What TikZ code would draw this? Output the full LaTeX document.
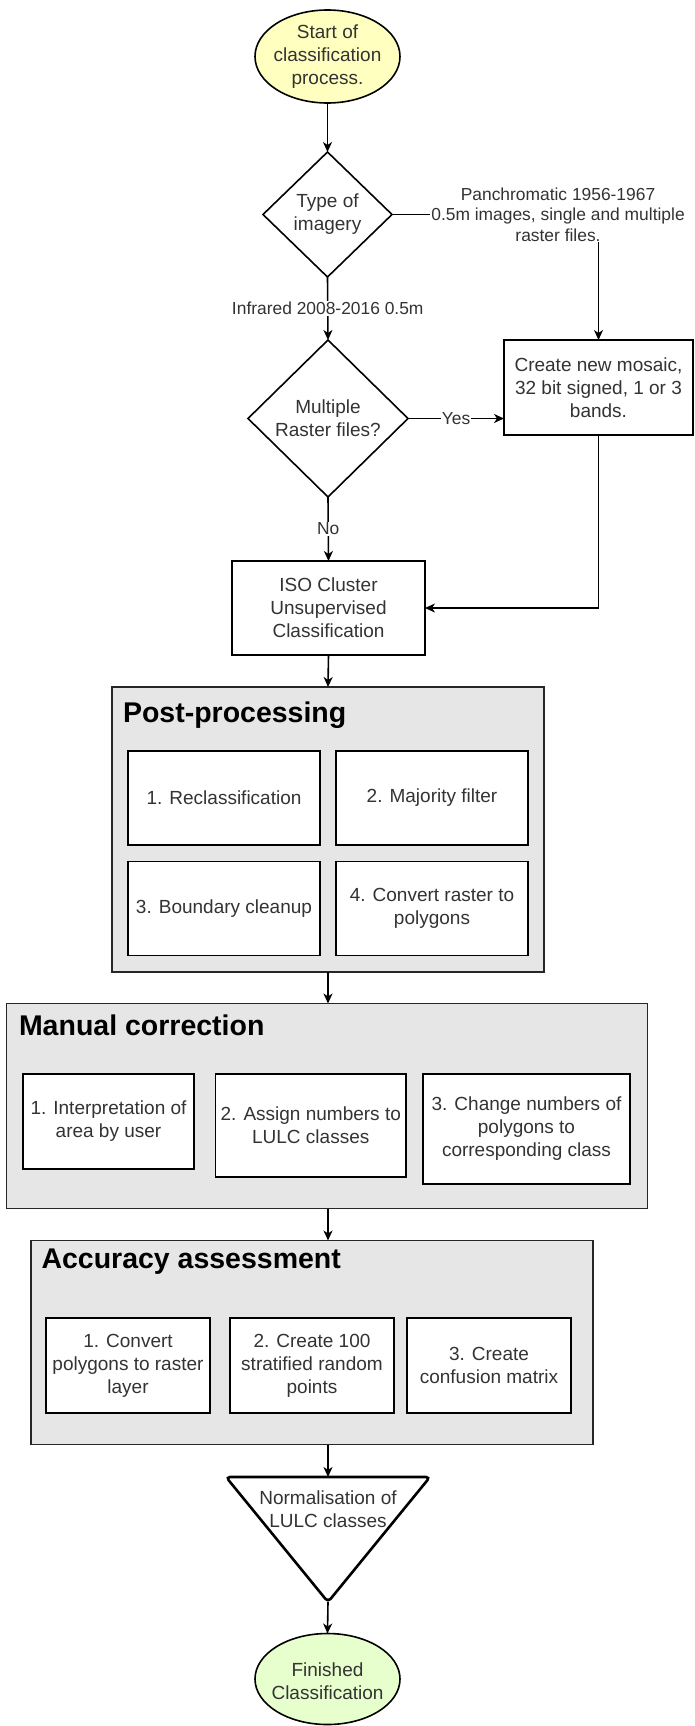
\documentclass[tikz,border=0pt]{standalone}
\usepackage{fontspec}
\setmainfont{Liberation Sans}
\usetikzlibrary{arrows.meta,shapes.geometric}
\definecolor{txtcol}{HTML}{333333}
\definecolor{startfill}{HTML}{FFFFC0}
\definecolor{endfill}{HTML}{E6FFCC}
\definecolor{groupfill}{HTML}{E6E6E6}
\begin{document}
\begin{tikzpicture}[x=1pt,y=-1pt,
  line width=1.6pt,
  every node/.style={inner sep=0pt, outer sep=0pt, text=txtcol, align=center,
    font=\fontsize{19}{23}\selectfont},
  arr/.style={draw=black, -{Stealth[length=10pt,width=9pt,inset=3pt]}},
  stepbox/.style={draw=black, fill=white, rectangle},
  groupbox/.style={draw=black!85, fill=groupfill, rectangle},
  grouptitle/.style={anchor=west, text=black, font=\fontsize{28.5}{34}\selectfont\bfseries},
  lbl/.style={fill=white, inner sep=1pt, font=\fontsize{17.4}{20.5}\selectfont},
  decision/.style={draw=black, fill=white, diamond},
  terminal/.style={draw=black, ellipse}
]
\useasboundingbox (0,0) rectangle (694,1726);

% start
\node[terminal, fill=startfill, minimum width=145pt, minimum height=93pt] (start) at (327.5,56.5) {};
\node (starttxt) at (327.5,56.5) {Start of\\classification\\process.};

% type of imagery
\node[decision, minimum width=129pt, minimum height=125pt] (type) at (327.5,214.5) {};
\node (typetxt) at (327.5,214.5) {Type of\\imagery};

% multiple raster
\node[decision, minimum width=160pt, minimum height=157pt] (multi) at (328,418.5) {};
\node (multitxt) at (328,418.5) {Multiple\\Raster files?};

% mosaic
\node[stepbox, minimum width=189pt, minimum height=95pt] (mosaic) at (598.5,387.5)
  {Create new mosaic,\\32 bit signed, 1 or 3\\bands.};

% iso cluster
\node[stepbox, minimum width=193pt, minimum height=94pt] (iso) at (328.5,608)
  {ISO Cluster\\Unsupervised\\Classification};

% post-processing
\node[groupbox, minimum width=432pt, minimum height=285pt] (post) at (328,829.5) {};
\node[grouptitle] (posttitle) at (123,715) {Post-processing};
\node[stepbox, minimum width=192pt, minimum height=94pt] (pp1) at (224,798) {1. Reclassification};
\node[stepbox, minimum width=192pt, minimum height=94pt] (pp2) at (432,798) {2. Majority filter};
\node[stepbox, minimum width=192pt, minimum height=94pt] (pp3) at (224,908.5) {3. Boundary cleanup};
\node[stepbox, minimum width=192pt, minimum height=94pt] (pp4) at (432,908.5) {4. Convert raster to\\polygons};

% manual correction
\node[groupbox, minimum width=641pt, minimum height=205pt] (mc) at (327,1106) {};
\node[grouptitle] (mctitle) at (19,1025) {Manual correction};
\node[stepbox, minimum width=171pt, minimum height=95pt] (mc1) at (108.5,1121.5) {1. Interpretation of\\area by user};
\node[stepbox, minimum width=190.5pt, minimum height=103pt] (mc2) at (310.75,1125.5) {2. Assign numbers to\\LULC classes};
\node[stepbox, minimum width=207pt, minimum height=110pt] (mc3) at (526.5,1129) {3. Change numbers of\\polygons to\\corresponding class};

% accuracy assessment
\node[groupbox, minimum width=562pt, minimum height=204pt] (aa) at (312,1342.5) {};
\node[grouptitle] (aatitle) at (41.5,1262) {Accuracy assessment};
\node[stepbox, minimum width=164pt, minimum height=95pt] (aa1) at (128,1365.5) {1. Convert\\polygons to raster\\layer};
\node[stepbox, minimum width=164pt, minimum height=95pt] (aa2) at (312,1365.5) {2. Create 100\\stratified random\\points};
\node[stepbox, minimum width=164pt, minimum height=95pt] (aa3) at (489,1365.5) {3. Create\\confusion matrix};

% normalisation (triangle)
\node[minimum width=204pt, minimum height=125pt] (norm) at (328,1539.5) {};
\draw[fill=white, line width=2.6pt, rounded corners=4pt]
  (norm.north) -- (norm.north east) -- (norm.south) -- (norm.north west) -- cycle;
\node (normtxt) at (328,1509.5) {Normalisation of\\LULC classes};

% finish
\node[terminal, fill=endfill, minimum width=145pt, minimum height=91pt] (finish) at (327.5,1679) {};
\node (finishtxt) at (327.5,1681.5) {Finished\\Classification};

% connectors
\draw[arr] (start.south) -- (type.north);
\draw[arr] (type.east) -| (mosaic.north)
  node[lbl, pos=0.402] (panlbl) {Panchromatic 1956-1967\\0.5m images, single and multiple\\raster files.};
\draw[arr] (type.south) -- (multi.north)
  node[lbl, midway] (irlbl) {Infrared 2008-2016 0.5m};
\draw[arr] (multi.east) -- (multi.east -| mosaic.west)
  node[lbl, midway] (yeslbl) {Yes};
\draw[arr] (multi.south) -- (iso.north)
  node[lbl, midway] (nolbl) {No};
\draw[arr] (mosaic.south) |- (iso.east);
\draw[arr] (iso.south) -- (post.north);
\draw[arr] (post.south) -- (post.south |- mc.north);
\draw[arr] (post.south |- mc.south) -- (post.south |- aa.north);
\draw[arr] (post.south |- aa.south) -- (norm.north);
\draw[arr] (norm.south) -- (finish.north);
\end{tikzpicture}
\end{document}
